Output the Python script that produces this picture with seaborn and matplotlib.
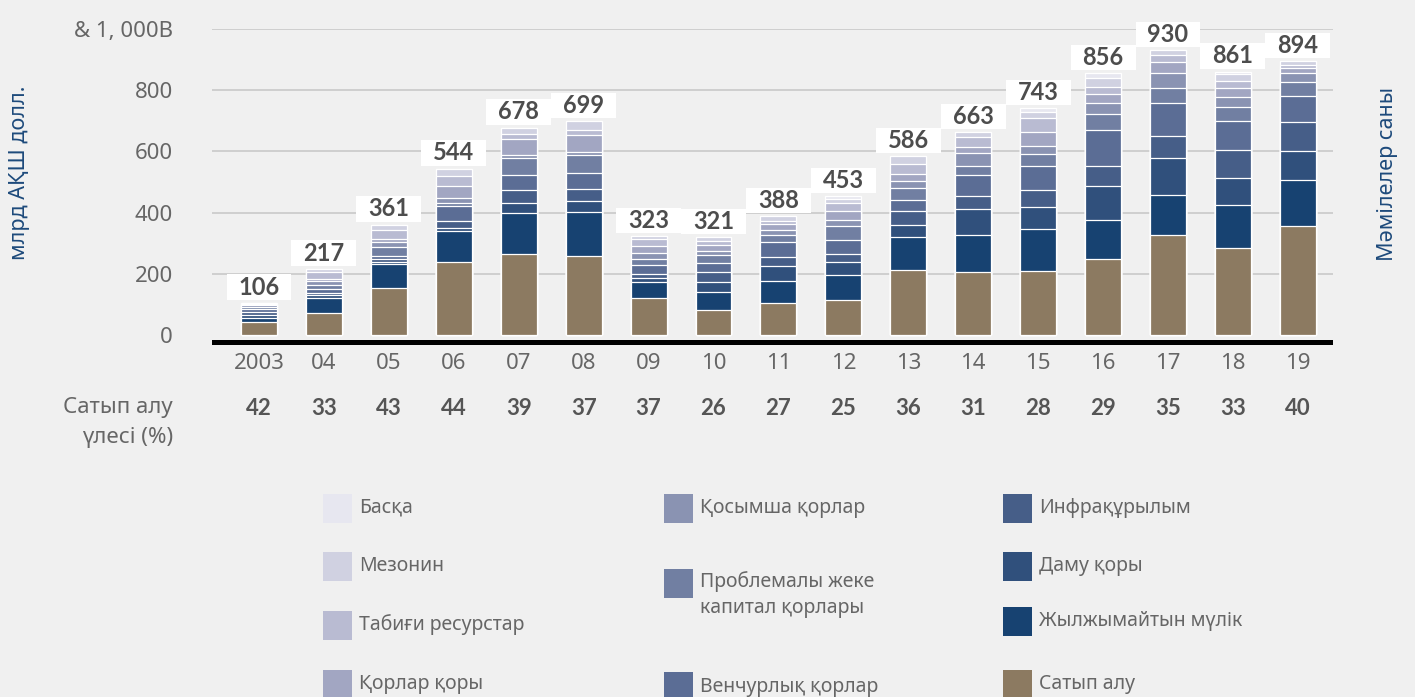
import numpy as np
import pandas as pd
import seaborn as sns
import matplotlib.pyplot as plt
import matplotlib.patches as mpatches

plt.rcParams['font.family'] = ['Noto Sans', 'DejaVu Sans']
BOLD_FONT = ['Lato', 'Roboto', 'DejaVu Sans']

# ---- data ----
years = ['2003', '04', '05', '06', '07', '08', '09', '10', '11', '12',
         '13', '14', '15', '16', '17', '18', '19']
totals = [106, 217, 361, 544, 678, 699, 323, 321, 388, 453,
          586, 663, 743, 856, 930, 861, 894]
buyout_share = [42, 33, 43, 44, 39, 37, 37, 26, 27, 25,
                36, 31, 28, 29, 35, 33, 40]

# segments, bottom -> top (US$ bn)
buyout = [42, 72, 155, 239, 264, 259, 120, 83, 105, 113, 211, 206, 208, 248, 326, 284, 358]
real_estate = [13, 50, 78, 100, 136, 144, 54, 58, 70, 82, 110, 121, 140, 128, 131, 141, 150]
growth = [9, 8, 6, 12, 30, 35, 13, 31, 50, 45, 39, 84, 72, 110, 120, 87, 95]
infrastructure = [12, 6, 10, 22, 44, 38, 12, 33, 30, 26, 47, 45, 54, 66, 74, 93, 93]
venture = [8, 16, 8, 50, 50, 53, 29, 30, 48, 46, 34, 66, 80, 118, 108, 95, 86]
distressed = [8, 10, 32, 8, 56, 58, 20, 25, 25, 43, 38, 30, 38, 53, 50, 45, 46]
secondaries = [5, 14, 16, 18, 8, 10, 19, 15, 15, 20, 24, 42, 25, 34, 47, 32, 28]
fund_of_funds = [5, 8, 10, 38, 52, 56, 24, 18, 19, 32, 23, 21, 47, 32, 35, 32, 18]
natural_res = [4, 22, 28, 33, 18, 18, 24, 14, 11, 26, 32, 32, 44, 23, 23, 20, 10]
mezzanine = [0, 9, 18, 22, 20, 28, 8, 12, 15, 13, 26, 16, 22, 29, 16, 25, 10]
other = [0, 2, 0, 2, 0, 0, 0, 2, 0, 7, 2, 0, 13, 15, 0, 7, 0]

labels = ['Сатып алу', 'Жылжымайтын мүлік', 'Даму қоры', 'Инфрақұрылым',
          'Венчурлық қорлар', 'Проблемалы жеке\nкапитал қорлары', 'Қосымша қорлар',
          'Қорлар қоры', 'Табиғи ресурстар', 'Мезонин', 'Басқа']
series = [buyout, real_estate, growth, infrastructure, venture, distressed,
          secondaries, fund_of_funds, natural_res, mezzanine, other]
colors = ['#8C7A61', '#174271', '#30507C', '#465E88', '#5B6D95', '#717FA2',
          '#8A93B2', '#A2A6C2', '#B9BBD2', '#D0D1E1', '#E7E7F0']

yticks = [0, 200, 400, 600, 800, 1000]
ytick_labels = ['0', '200', '400', '600', '800', '& 1, 000B']

TXT = '#666666'
NAVY = '#1D4A7B'

# ---- figure ----
fig = plt.figure(figsize=(14.15, 6.97), dpi=100)
fig.patch.set_facecolor('#F0F0F0')
ax = fig.add_axes([0.1498, 0.4978, 0.7922, 0.4605])
ax.set_facecolor('none')

df = pd.DataFrame(dict(zip(labels, series)), index=years)
cum = df.cumsum(axis=1)

# stacked bars: draw cumulative totals from the top layer downwards
for lab, col in reversed(list(zip(labels, colors))):
    sns.barplot(x=years, y=cum[lab].values, order=years, color=col, saturation=1,
                width=0.554, edgecolor='white', linewidth=0.9, ax=ax, zorder=3)

ax.set_xlim(-0.724, 16.54)
ax.set_ylim(-49, 1000)
ax.set_yticks(yticks)
ax.set_yticklabels(ytick_labels)
ax.yaxis.grid(True, color='#C9C9C9', lw=1.2, zorder=0)
ax.get_ygridlines()[0].set_visible(False)
ax.axhline(-23, color='black', lw=3.6, zorder=4)
sns.despine(ax=ax, left=True, bottom=True)
ax.tick_params(axis='y', length=0, pad=28, labelsize=16, labelcolor=TXT)
ax.tick_params(axis='x', length=0, pad=2, labelsize=16, labelcolor=TXT)
ax.set_xlabel('')
ax.set_ylabel('')

# total labels in white boxes
for i, tot in enumerate(df.sum(axis=1).values):
    ax.add_patch(mpatches.Rectangle((i - 0.5, tot + 10), 1.0, 82, facecolor='white',
                                    edgecolor='none', clip_on=False, zorder=5))
    ax.text(i, tot + 51, f'{totals[i]}', ha='center', va='center', fontsize=17,
            fontweight='bold', family=BOLD_FONT, color='#4D4D4D', zorder=6)

# buyout share row
for i, v in enumerate(buyout_share):
    ax.text(i, -0.181, str(v), transform=ax.get_xaxis_transform(), ha='center',
            va='center', fontsize=16, fontweight='bold', family=BOLD_FONT, color='#555555')

W, H = 1415, 697
fig.text(173 / W, 1 - 408 / H, 'Сатып алу', ha='right', va='center', fontsize=16, color=TXT)
fig.text(173 / W, 1 - 437 / H, 'үлесі (%)', ha='right', va='center', fontsize=16, color=TXT)

fig.text(20 / W, 1 - 173 / H, 'млрд АҚШ долл.', rotation=90, ha='center', va='center',
         fontsize=15.5, color=NAVY)
fig.text(1387 / W, 1 - 174 / H, 'Мәмілелер саны', rotation=90, ha='center', va='center',
         fontsize=15.5, color=NAVY)

# legend, three columns laid out by hand
legend_cols = [
    (323, [10, 9, 8, 7], [508, 566, 625, 684]),
    (664, [6, 5, 4], [508, 583, 687]),
    (1003, [3, 2, 1, 0], [508, 566, 621, 684]),
]
for x0, idxs, ys in legend_cols:
    for k, yc in zip(idxs, ys):
        fig.patches.append(mpatches.Rectangle((x0 / W, 1 - (yc + 14.5) / H), 29 / W, 29 / H,
                                              transform=fig.transFigure, facecolor=colors[k],
                                              edgecolor='none'))
        multi = '\n' in labels[k]
        fig.text((x0 + 36) / W, 1 - (yc - 12 if multi else yc) / H, labels[k], ha='left',
                 va='top' if multi else 'center', fontsize=14, color=TXT, linespacing=1.4)

plt.savefig('out.png', dpi=100, facecolor=fig.get_facecolor())
